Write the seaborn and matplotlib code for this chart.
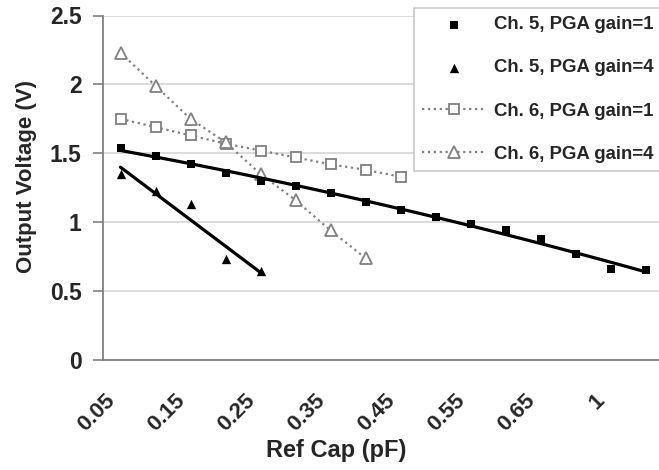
import numpy as np
import matplotlib
matplotlib.use("Agg")
import matplotlib.pyplot as plt
import matplotlib.transforms as mtransforms
import seaborn as sns

# Excel-style category axis: reference capacitance values (pF)
cap_labels = ["0.05", "0.1", "0.15", "0.2", "0.25", "0.3", "0.35", "0.4",
              "0.45", "0.5", "0.55", "0.6", "0.65", "0.7", "1", "1.1"]

# output voltage (V)
ch5_gain1 = [1.54, 1.48, 1.42, 1.36, 1.30, 1.26, 1.21, 1.15,
             1.09, 1.04, 0.99, 0.94, 0.88, 0.77, 0.66, 0.65]
ch5_gain4 = [1.35, 1.23, 1.13, 0.73, 0.645]
ch6_gain1 = [1.75, 1.69, 1.63, 1.57, 1.52, 1.47, 1.42, 1.38, 1.33]
ch6_gain4 = [2.23, 1.99, 1.75, 1.58, 1.35, 1.16, 0.94, 0.74]

legend_labels = ["Ch. 5, PGA gain=1", "Ch. 5, PGA gain=4",
                 "Ch. 6, PGA gain=1", "Ch. 6, PGA gain=4"]

sns.set_style("white")
plt.rcParams["font.family"] = ["Liberation Sans", "DejaVu Sans"]
plt.rcParams["font.weight"] = "bold"

grey = "#808080"
fig = plt.figure(figsize=(6.59, 4.70), dpi=100)
ax = fig.add_axes([103 / 659, 1 - 360 / 470, 560 / 659, 344.5 / 470])


def centers(vals):
    return np.arange(len(vals)) + 0.5


# Ch. 5 data as markers, with Excel trend lines
sns.scatterplot(x=centers(ch5_gain1), y=ch5_gain1, marker="s", s=30,
                color="black", edgecolor="black", linewidth=0, ax=ax,
                label=legend_labels[0], zorder=4)
sns.scatterplot(x=centers(ch5_gain4), y=ch5_gain4, marker="^", s=45,
                color="black", edgecolor="black", linewidth=0, ax=ax,
                label=legend_labels[1], zorder=4)
sns.regplot(x=centers(ch5_gain1), y=ch5_gain1, order=2, scatter=False, ci=None,
            truncate=True, color="black", line_kws={"lw": 2.3, "zorder": 3}, ax=ax)
sns.regplot(x=centers(ch5_gain4), y=ch5_gain4, order=1, scatter=False, ci=None,
            truncate=True, color="black", line_kws={"lw": 2.3, "zorder": 3}, ax=ax)

# Ch. 6 data, dotted grey with hollow markers
sns.lineplot(x=centers(ch6_gain1), y=ch6_gain1, color=grey, linestyle=":", lw=1.6,
             marker="s", markersize=7, markerfacecolor="white", markeredgecolor=grey,
             markeredgewidth=1.3, ax=ax, label=legend_labels[2], zorder=2)
sns.lineplot(x=centers(ch6_gain4), y=ch6_gain4, color=grey, linestyle=":", lw=1.6,
             marker="^", markersize=8, markerfacecolor="white", markeredgecolor=grey,
             markeredgewidth=1.3, ax=ax, label=legend_labels[3], zorder=2)

ax.set_xlim(0, len(cap_labels))
ax.set_ylim(0, 2.5)
ax.set_yticks(np.arange(0, 2.51, 0.5))
ax.set_yticklabels(["0", "0.5", "1", "1.5", "2", "2.5"], fontsize=16.5, fontweight="bold")
ax.grid(axis="y", color="#d9d9d9", lw=1.3)
ax.set_axisbelow(True)

# tick marks on category boundaries, labels on every other category
ax.set_xticks(np.arange(0, len(cap_labels) + 1))
ax.set_xticklabels([])
label_pos = np.arange(0, len(cap_labels), 2) + 0.5
ax.set_xticks(label_pos, minor=True)
ax.set_xticklabels([cap_labels[i] for i in range(0, len(cap_labels), 2)], minor=True,
                   rotation=45, ha="right", va="center", rotation_mode="anchor",
                   fontsize=16, fontweight="bold")
ax.tick_params(axis="x", which="minor", length=0, pad=27)
ax.tick_params(axis="x", which="major", length=6, color=grey, width=1.2, direction="out")
ax.tick_params(axis="y", length=7, color=grey, width=1.2, direction="out", pad=8.5, left=True)
shift = mtransforms.ScaledTranslation(-9 / 100, 0, fig.dpi_scale_trans)
for lbl in ax.get_xticklabels(minor=True):
    lbl.set_transform(lbl.get_transform() + shift)

for side in ["top", "right"]:
    ax.spines[side].set_visible(False)
for side in ["left", "bottom"]:
    ax.spines[side].set_color(grey)
    ax.spines[side].set_linewidth(1.3)

ax.set_xlabel("Ref Cap (pF)", fontsize=17, fontweight="bold")
ax.set_ylabel("Output Voltage (V)", fontsize=16, fontweight="bold")
ax.xaxis.set_label_coords(0.416, -0.229)
ax.yaxis.set_label_coords(-0.118, 0.533)

leg = ax.legend(loc="upper left", bbox_to_anchor=(414 / 659, 1 - 8 / 470),
                bbox_transform=fig.transFigure, borderaxespad=0, frameon=True,
                fancybox=False, edgecolor="#c8c8c8", framealpha=1,
                prop={"size": 13.4, "weight": "bold"}, handlelength=3.4,
                handletextpad=0.45, labelspacing=1.4, borderpad=0.45)
leg.get_frame().set_linewidth(1.2)

fig.savefig("out.png", dpi=100)
